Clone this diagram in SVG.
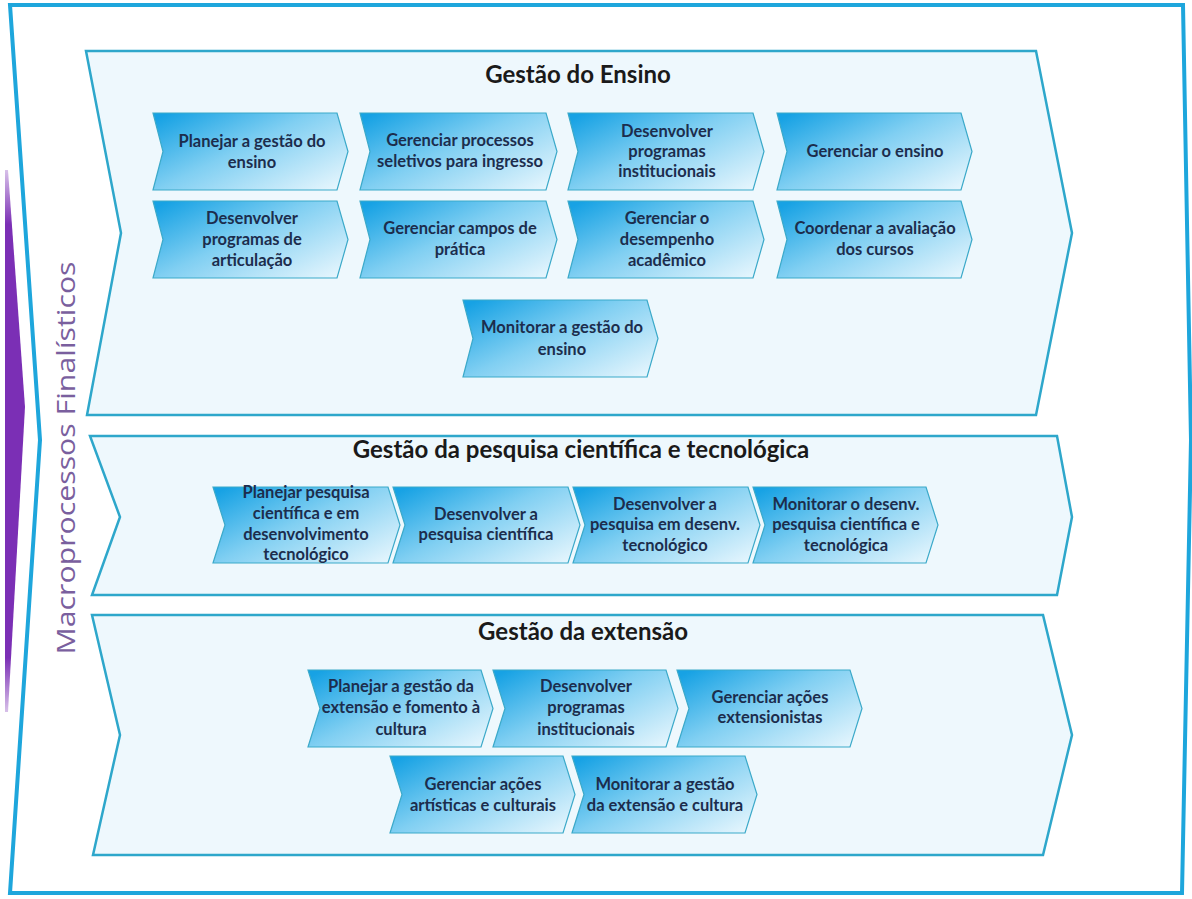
<svg xmlns="http://www.w3.org/2000/svg" width="1192" height="899" viewBox="0 0 1192 899">
<defs>
<linearGradient id="gNode" x1="0" y1="0.1" x2="1" y2="0.9">
<stop offset="0" stop-color="#17a2e4"/>
<stop offset="0.45" stop-color="#80cff2"/>
<stop offset="1" stop-color="#e4f5fd"/>
</linearGradient>
<linearGradient id="gPurple" x1="0" y1="0" x2="0" y2="1">
<stop offset="0" stop-color="#7b2fb5" stop-opacity="0.3"/>
<stop offset="0.1" stop-color="#7b2fb5"/>
<stop offset="0.9" stop-color="#7b2fb5"/>
<stop offset="1" stop-color="#7b2fb5" stop-opacity="0.3"/>
</linearGradient>
</defs>
<style>
.sec{fill:#eef8fd;stroke:#2ea7cb;stroke-width:2.5}
.node{fill:url(#gNode);stroke:#3ba9c9;stroke-width:1.2}
.t{font-family:Lato,"Liberation Sans",sans-serif;font-weight:bold;font-size:16.5px;fill:#1c2d4d;text-anchor:middle}
.title{font-family:Lato,"Liberation Sans",sans-serif;font-weight:bold;font-size:24px;fill:#1a1a1a;text-anchor:middle}
.side{font-family:"Open Sans","Liberation Sans",sans-serif;font-size:26px;fill:#7a5f9e;text-anchor:middle}
</style>
<rect width="1192" height="899" fill="#ffffff"/>
<g id="frame">
<polygon points="5,170 8,170 25,407 8,712 5,712" fill="url(#gPurple)"/>
<polygon points="10,5 1183,5 1191,440 1182,893 10,893 40,440" fill="#ffffff" stroke="#1ea6dc" stroke-width="4"/>
<text class="side" transform="translate(75,458) rotate(-90)" textLength="393" lengthAdjust="spacingAndGlyphs">Macroprocessos Finalísticos</text>
</g>
<g id="sec-ensino">
<polygon class="sec" points="86,51 1036,51 1072,233 1036,415 87,415 121,233"/>
<text class="title" x="578" y="83">Gestão do Ensino</text>
</g>
<g id="sec-pesquisa">
<polygon class="sec" points="90,436 1057,436 1072,517 1057,595 92,595 120,517"/>
<text class="title" x="581" y="458">Gestão da pesquisa científica e tecnológica</text>
</g>
<g id="sec-extensao">
<polygon class="sec" points="92,615 1043,615 1072,735 1043,855 93,855 120,735"/>
<text class="title" x="583" y="640">Gestão da extensão</text>
</g>
<g id="connectors"></g>
<g id="n1">
<path class="node" d="M153,113 H337 L348,151.5 L337,190 H153 L163,151.5 Z"/>
<text class="t" x="252" y="147">Planejar a gestão do</text><text class="t" x="252" y="168">ensino</text>
</g>
<g id="n2">
<path class="node" d="M360,113 H546 L557,151.5 L546,190 H360 L370,151.5 Z"/>
<text class="t" x="460" y="146">Gerenciar processos</text><text class="t" x="460" y="167">seletivos para ingresso</text>
</g>
<g id="n3">
<path class="node" d="M568,113 H753 L764,151.5 L753,190 H568 L578,151.5 Z"/>
<text class="t" x="667" y="137">Desenvolver</text><text class="t" x="667" y="157">programas</text><text class="t" x="667" y="177">institucionais</text>
</g>
<g id="n4">
<path class="node" d="M777,113 H961 L972,151.5 L961,190 H777 L787,151.5 Z"/>
<text class="t" x="875" y="157">Gerenciar o ensino</text>
</g>
<g id="n5">
<path class="node" d="M153,201 H337 L348,239.5 L337,278 H153 L163,239.5 Z"/>
<text class="t" x="252" y="224">Desenvolver</text><text class="t" x="252" y="245">programas de</text><text class="t" x="252" y="266">articulação</text>
</g>
<g id="n6">
<path class="node" d="M360,201 H546 L557,239.5 L546,278 H360 L370,239.5 Z"/>
<text class="t" x="460" y="234">Gerenciar campos de</text><text class="t" x="460" y="255">prática</text>
</g>
<g id="n7">
<path class="node" d="M568,201 H753 L764,239.5 L753,278 H568 L578,239.5 Z"/>
<text class="t" x="667" y="224">Gerenciar o</text><text class="t" x="667" y="245">desempenho</text><text class="t" x="667" y="266">acadêmico</text>
</g>
<g id="n8">
<path class="node" d="M777,201 H961 L972,239.5 L961,278 H777 L787,239.5 Z"/>
<text class="t" x="875" y="234">Coordenar a avaliação</text><text class="t" x="875" y="255">dos cursos</text>
</g>
<g id="n9">
<path class="node" d="M463,300 H647 L658,338.5 L647,377 H463 L473,338.5 Z"/>
<text class="t" x="562" y="333">Monitorar a gestão do</text><text class="t" x="562" y="355">ensino</text>
</g>
<g id="p1">
<path class="node" d="M213,487 H388 L400,525 L388,563 H213 L225,525 Z"/>
<text class="t" x="306" y="498">Planejar pesquisa</text><text class="t" x="306" y="519">científica e em</text><text class="t" x="306" y="540">desenvolvimento</text><text class="t" x="306" y="560">tecnológico</text>
</g>
<g id="p2">
<path class="node" d="M393,487 H568 L580,525 L568,563 H393 L405,525 Z"/>
<text class="t" x="486" y="520">Desenvolver a</text><text class="t" x="486" y="540">pesquisa científica</text>
</g>
<g id="p3">
<path class="node" d="M573,487 H748 L760,525 L748,563 H573 L585,525 Z"/>
<text class="t" x="665" y="510">Desenvolver a</text><text class="t" x="665" y="530">pesquisa em desenv.</text><text class="t" x="665" y="551">tecnológico</text>
</g>
<g id="p4">
<path class="node" d="M753,487 H926 L938,525 L926,563 H753 L765,525 Z"/>
<text class="t" x="846" y="510">Monitorar o desenv.</text><text class="t" x="846" y="530">pesquisa científica e</text><text class="t" x="846" y="551">tecnológica</text>
</g>
<g id="e1">
<path class="node" d="M308,670 H481 L493,708.5 L481,747 H308 L320,708.5 Z"/>
<text class="t" x="401" y="692">Planejar a gestão da</text><text class="t" x="401" y="713">extensão e fomento à</text><text class="t" x="401" y="735">cultura</text>
</g>
<g id="e2">
<path class="node" d="M493,670 H666 L678,708.5 L666,747 H493 L505,708.5 Z"/>
<text class="t" x="586" y="692">Desenvolver</text><text class="t" x="586" y="713">programas</text><text class="t" x="586" y="735">institucionais</text>
</g>
<g id="e3">
<path class="node" d="M677,670 H850 L862,708.5 L850,747 H677 L689,708.5 Z"/>
<text class="t" x="770" y="703">Gerenciar ações</text><text class="t" x="770" y="723">extensionistas</text>
</g>
<g id="e4">
<path class="node" d="M390,756 H563 L575,794.5 L563,833 H390 L402,794.5 Z"/>
<text class="t" x="483" y="790">Gerenciar ações</text><text class="t" x="483" y="811">artísticas e culturais</text>
</g>
<g id="e5">
<path class="node" d="M572,756 H745 L757,794.5 L745,833 H572 L584,794.5 Z"/>
<text class="t" x="665" y="790">Monitorar a gestão</text><text class="t" x="665" y="811">da extensão e cultura</text>
</g>
</svg>
